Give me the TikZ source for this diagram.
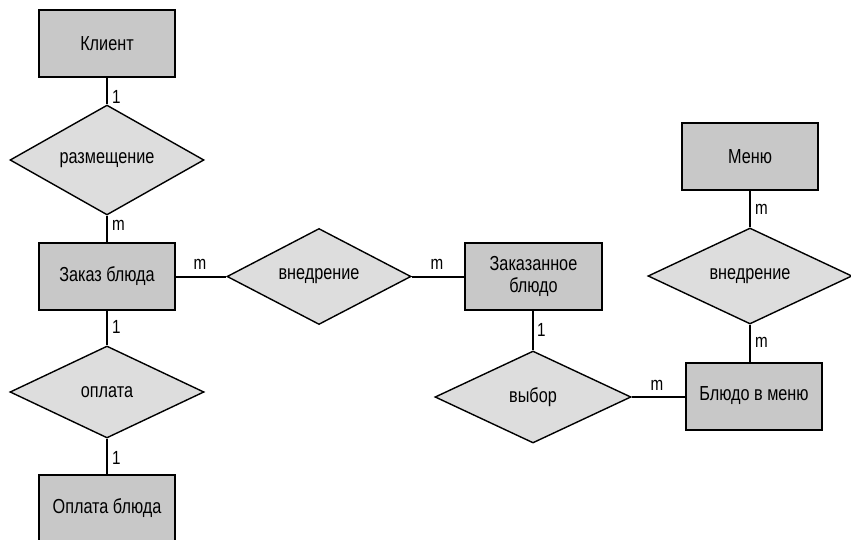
\documentclass[tikz,border=0pt]{standalone}
\usepackage{fontspec}
\setmainfont{Liberation Sans}[FakeStretch=0.8]
\usetikzlibrary{shapes.geometric}
\definecolor{boxfill}{RGB}{200,200,200}
\definecolor{diafill}{RGB}{221,221,221}
\begin{document}
\begin{tikzpicture}[x=1pt,y=-1pt,
  entity/.style={draw=black, line width=2pt, fill=boxfill, minimum width=136pt, minimum height=67pt, inner sep=0pt, font=\fontsize{20.3}{22}\selectfont, align=center},
  rel/.style={draw=black, line width=1.4pt, fill=diafill, diamond, inner sep=0pt, font=\fontsize{20.3}{22}\selectfont},
  conn/.style={line width=2pt},
  card/.style={font=\fontsize{19}{20}\selectfont, inner sep=0pt}]
\useasboundingbox (0,0) rectangle (851,540);
\node[entity] (klient) at (107,44) {Клиент};
\node[rel, minimum width=194pt, minimum height=92pt] (razm) at (107,160) {размещение};
\node[entity] (zakaz) at (107,276.5) {Заказ блюда};
\node[rel, minimum width=184pt, minimum height=95pt] (vnedr1) at (319,276.5) {внедрение};
\node[entity, minimum width=137pt] (zakdish) at (533.5,276.5) {Заказанное\\блюдо};
\node[rel, minimum width=194pt, minimum height=92pt] (oplata) at (107,392) {оплата};
\node[entity] (oplbl) at (107,508) {Оплата блюда};
\node[entity] (menu) at (750,157) {Меню};
\node[rel, minimum width=204pt, minimum height=94pt] (vnedr2) at (750,276) {внедрение};
\node[entity] (blmenu) at (754,396) {Блюдо в меню};
\node[rel, minimum width=196pt, minimum height=92pt] (vybor) at (533,397) {выбор};
\draw[conn] (klient.south) -- (razm.north);
\draw[conn] (razm.south) -- (zakaz.north);
\draw[conn] (zakaz.south) -- (oplata.north);
\draw[conn] (oplata.south) -- (oplbl.north);
\draw[conn] (zakaz.east) -- (vnedr1.west);
\draw[conn] (vnedr1.east) -- (zakdish.west);
\draw[conn] (zakdish.south -| vybor.north) -- (vybor.north);
\draw[conn] (vybor.east) -- (blmenu.west |- vybor.east);
\draw[conn] (menu.south -| vnedr2.north) -- (vnedr2.north);
\draw[conn] (vnedr2.south) -- (blmenu.north -| vnedr2.south);
\node[card, anchor=west] (c1) at (112,97) {1};
\node[card, anchor=west] (c2) at (112,225) {m};
\node[card, anchor=west] (c3) at (112,327) {1};
\node[card, anchor=west] (c4) at (112,458) {1};
\node[card] (c5) at (200,264) {m};
\node[card] (c6) at (437,264) {m};
\node[card, anchor=west] (c7) at (537,330) {1};
\node[card, anchor=west] (c8) at (755,209) {m};
\node[card, anchor=west] (c9) at (755,342) {m};
\node[card] (c10) at (657,385) {m};
\end{tikzpicture}
\end{document}
